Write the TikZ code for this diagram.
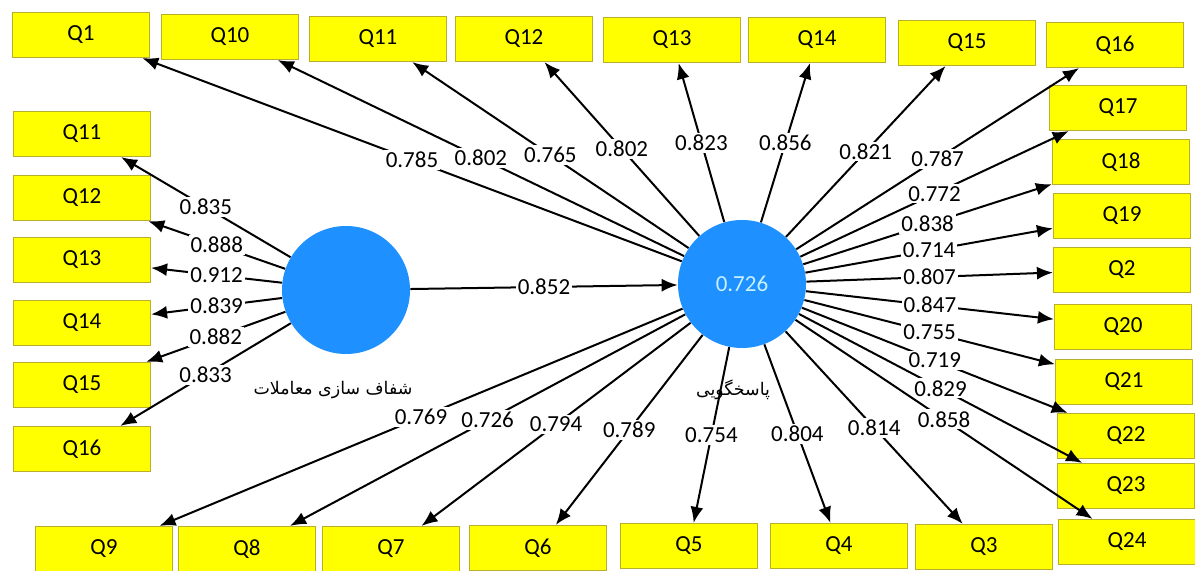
\documentclass[tikz,border=0pt]{standalone}
\usepackage{fontspec}
\setmainfont{Carlito}
\newfontfamily\arabicfont[Script=Arabic]{DejaVu Sans}
\TeXXeTstate=1
\usetikzlibrary{arrows.meta}
\definecolor{lvblue}{RGB}{30,144,255}
\definecolor{indyellow}{RGB}{255,255,0}
\definecolor{indborder}{RGB}{185,175,45}
\definecolor{rsqtext}{RGB}{200,240,255}
\begin{document}
\begin{tikzpicture}[x=0.5pt,y=-0.5pt,
  ind/.style={draw=indborder,fill=indyellow,line width=0.6pt,minimum width=68.5pt,minimum height=22.5pt,inner sep=0pt,font=\fontsize{11.5}{13}\selectfont},
  lv/.style={circle,fill=lvblue,minimum size=64pt,inner sep=0pt},
  ld/.style={fill=white,inner sep=1pt,font=\fontsize{11.5}{13}\selectfont},
  arr/.style={-{Latex[length=8pt,width=6.5pt]},line width=1pt}]
\useasboundingbox (0,0) rectangle (1195,571);

% latent variables
\node[lv] (lc) at (346,290) {};
\node[lv,text=rsqtext,font=\fontsize{11.5}{13}\selectfont] (rc) at (742,284) {0.726};
\node (lcname) at (333,390) {\fontsize{8.7}{10}\arabicfont\beginR شفاف سازی معاملات\endR};
\node (rcname) at (733,390) {\fontsize{8.7}{10}\arabicfont\beginR پاسخگویی\endR};

% indicators, left block
\node[ind] (a11) at (82,134) {Q11};
\node[ind] (a12) at (82,198) {Q12};
\node[ind] (a13) at (82,260) {Q13};
\node[ind] (a14) at (82,323) {Q14};
\node[ind] (a15) at (82,385) {Q15};
\node[ind] (a16) at (82,449) {Q16};

% indicators, top row
\node[ind] (q1) at (81,35) {Q1};
\node[ind] (q10) at (230,37) {Q10};
\node[ind] (q11) at (378,39) {Q11};
\node[ind] (q12) at (524,39) {Q12};
\node[ind] (q13) at (672,40) {Q13};
\node[ind] (q14) at (817,40) {Q14};
\node[ind] (q15) at (967,43) {Q15};
\node[ind] (q16) at (1115,45) {Q16};

% indicators, right column
\node[ind] (q17) at (1118,108) {Q17};
\node[ind] (q18) at (1121,162) {Q18};
\node[ind] (q19) at (1122,216) {Q19};
\node[ind] (q2) at (1122,270) {Q2};
\node[ind] (q20) at (1123,327) {Q20};
\node[ind] (q21) at (1124,382) {Q21};
\node[ind] (q22) at (1126,436) {Q22};
\node[ind] (q23) at (1126,486) {Q23};
\node[ind] (q24) at (1127,542) {Q24};

% indicators, bottom row
\node[ind] (q9) at (104,549) {Q9};
\node[ind] (q8) at (247,549) {Q8};
\node[ind] (q7) at (391,549) {Q7};
\node[ind] (q6) at (538,548) {Q6};
\node[ind] (q5) at (689,546) {Q5};
\node[ind] (q4) at (839,546) {Q4};
\node[ind] (q3) at (984,547) {Q3};

% path
\draw[arr] (lc) -- node[ld] {0.852} (rc);

% outer loadings, left
\draw[arr] (lc) -- node[ld] {0.835} (a11);
\draw[arr] (lc) -- node[ld] {0.888} (a12);
\draw[arr] (lc) -- node[ld] {0.912} (a13);
\draw[arr] (lc) -- node[ld] {0.839} (a14);
\draw[arr] (lc) -- node[ld] {0.882} (a15);
\draw[arr] (lc) -- node[ld] {0.833} (a16);

% outer loadings, right
\draw[arr] (rc) -- node[ld] {0.785} (q1);
\draw[arr] (rc) -- node[ld] {0.802} (q10);
\draw[arr] (rc) -- node[ld] {0.765} (q11);
\draw[arr] (rc) -- node[ld] {0.802} (q12);
\draw[arr] (rc) -- node[ld] {0.823} (q13);
\draw[arr] (rc) -- node[ld] {0.856} (q14);
\draw[arr] (rc) -- node[ld] {0.821} (q15);
\draw[arr] (rc) -- node[ld] {0.787} (q16);
\draw[arr] (rc) -- node[ld] {0.772} (q17);
\draw[arr] (rc) -- node[ld] {0.838} (q18);
\draw[arr] (rc) -- node[ld] {0.714} (q19);
\draw[arr] (rc) -- node[ld] {0.807} (q2);
\draw[arr] (rc) -- node[ld] {0.847} (q20);
\draw[arr] (rc) -- node[ld] {0.755} (q21);
\draw[arr] (rc) -- node[ld] {0.719} (q22);
\draw[arr] (rc) -- node[ld] {0.829} (q23);
\draw[arr] (rc) -- node[ld] {0.858} (q24);
\draw[arr] (rc) -- node[ld] {0.814} (q3);
\draw[arr] (rc) -- node[ld] {0.804} (q4);
\draw[arr] (rc) -- node[ld] {0.754} (q5);
\draw[arr] (rc) -- node[ld] {0.789} (q6);
\draw[arr] (rc) -- node[ld] {0.794} (q7);
\draw[arr] (rc) -- node[ld] {0.726} (q8);
\draw[arr] (rc) -- node[ld] {0.769} (q9);
\end{tikzpicture}
\end{document}
